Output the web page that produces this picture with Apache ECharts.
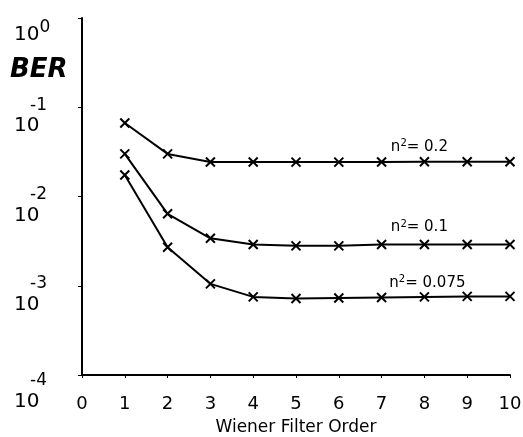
<!DOCTYPE html>
<html><head><meta charset="utf-8">
<script src="https://cdn.jsdelivr.net/npm/echarts@6/dist/echarts.min.js"></script>
<style>html,body{margin:0;padding:0;background:#fff}#c{width:523px;height:437px}</style>
</head><body><div id="c"></div>
<script>
const order = [1,2,3,4,5,6,7,8,9,10];
const ber_02 = [0.0667,0.030,0.0244,0.0244,0.0243,0.0243,0.0244,0.0245,0.0245,0.0245];
const ber_01 = [0.030,0.0064,0.0034,0.0029,0.0028,0.0028,0.0029,0.0029,0.0029,0.0029];
const ber_0075 = [0.0174,0.0027,0.00105,0.00075,0.00072,0.00073,0.00074,0.00075,0.00076,0.00076];
const seriesNames = ['0.2','0.1','0.075'];
const yExponents = {'1':'0','0.1':'-1','0.01':'-2','0.001':'-3','0.0001':'-4'};
const xTicks = [0,1,2,3,4,5,6,7,8,9,10];

const FONT = 'DejaVu Sans';
const xPath = 'path://M0,0L10,10M10,0L0,10';
function mk(vals, name, labelIdx, off) {
  return {
    type:'line', name:name,
    data: order.map((x,i)=>{
      const d = {value:[x, vals[i]]};
      if (i===labelIdx) {
        d.label = {show:true, position:'top', distance:4, offset:off,
          formatter:'n{s|2}= '+name, color:'#000', fontFamily:FONT, fontSize:15,
          rich:{s:{fontSize:10, verticalAlign:'top', padding:[0,0,7,0], fontFamily:FONT, color:'#000'}}};
      }
      return d;
    }),
    symbol: xPath, symbolSize: 9,
    itemStyle:{color:'#000', borderColor:'#000', borderWidth:2},
    lineStyle:{color:'#000', width:2},
    label:{show:false}, animation:false
  };
}
const chart = echarts.init(document.getElementById('c'));
chart.setOption({
  animation:false,
  grid:{left:82, right:13, top:18, bottom:62, containLabel:false, outerBoundsMode:'none'},
  xAxis:{type:'value', min:0, max:10, interval:1,
    name:'Wiener Filter Order', nameLocation:'middle', nameGap:44,
    nameTextStyle:{fontFamily:FONT, fontSize:17, color:'#000'},
    axisLine:{lineStyle:{color:'#000', width:2}},
    axisTick:{show:true, length:3, lineStyle:{color:'#000', width:1}},
    splitLine:{show:false},
    axisLabel:{fontFamily:FONT, fontSize:18, color:'#000', margin:20,
      formatter:v=> xTicks.includes(v) ? String(v) : ''}
  },
  yAxis:{type:'log', logBase:10, min:1e-4, max:1,
    axisLine:{lineStyle:{color:'#000', width:2}},
    axisTick:{show:true, length:4, lineStyle:{color:'#000', width:1}},
    splitLine:{show:false}, minorTick:{show:false},
    axisLabel:{align:'left', margin:68, verticalAlign:'middle',
      formatter: v => {
        const k = String(+v.toPrecision(3));
        const e = yExponents[k];
        if (e === undefined) return '';
        if (k === '1') return '{blank0| }\n{b|10}{e0|'+e+'}';
        if (k === '0.0001') return '{blank4| }\n{e|'+e+'}\n{b|10}';
        return '{blank| }\n{e|'+e+'}\n{b|10}';
      },
      rich:{
        blank:{fontSize:10, lineHeight:18},
        blank0:{fontSize:10, lineHeight:34},
        blank4:{fontSize:10, lineHeight:34},
        e:{fontFamily:FONT, fontSize:17, lineHeight:20, color:'#000', padding:[0,0,0,16]},
        e0:{fontFamily:FONT, fontSize:17, lineHeight:22, color:'#000', padding:[0,0,14,0]},
        b:{fontFamily:FONT, fontSize:20, lineHeight:22, color:'#000'}
      }
    }
  },
  graphic:[{type:'text', left:10, top:57,
    style:{text:'BER', font:'italic bold 26px "DejaVu Sans"', fill:'#000'}}],
  series:[mk(ber_02,seriesNames[0],7,[-5,3]), mk(ber_01,seriesNames[1],7,[-5,1]), mk(ber_0075,seriesNames[2],7,[3,4])]
});
</script></body></html>
